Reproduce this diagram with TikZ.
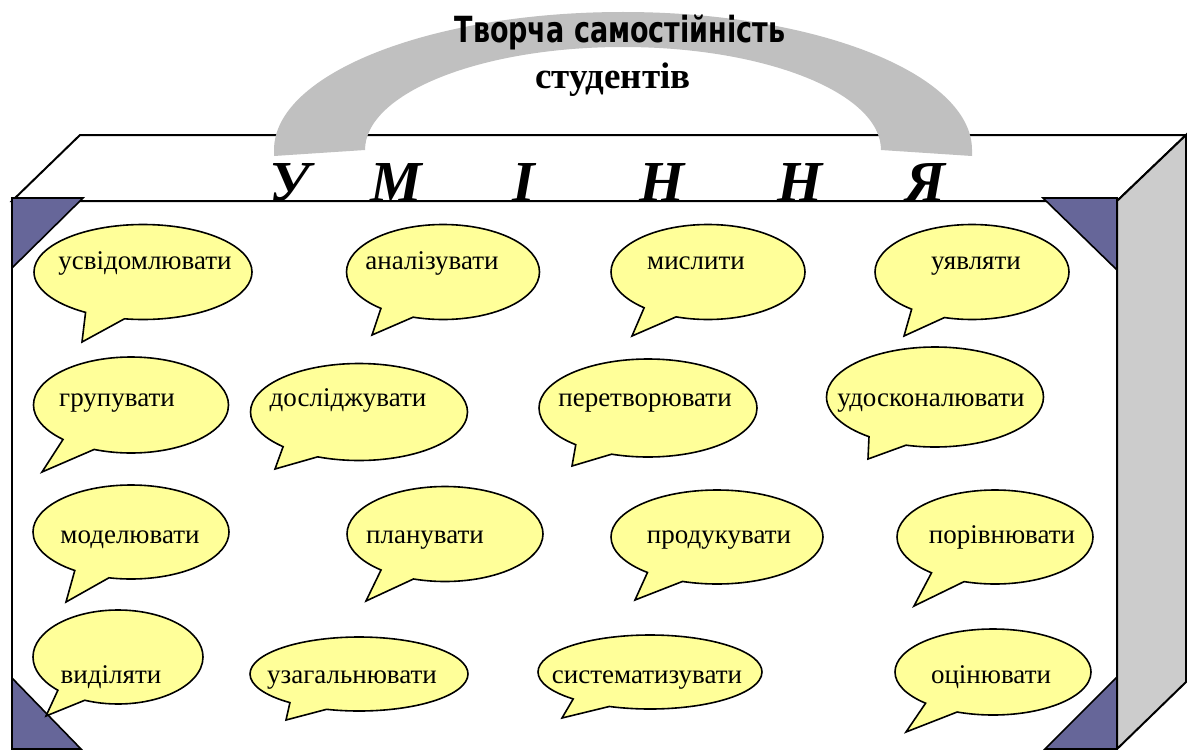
\documentclass[tikz,border=0pt]{standalone}
\usepackage{fontspec}
\setmainfont{Liberation Serif}
\newfontfamily\titlefont{DejaVu Sans}
\usetikzlibrary{shapes.callouts}
\definecolor{bubbleyellow}{HTML}{FFFF99}
\definecolor{cornerblue}{HTML}{666699}
\definecolor{sidegray}{HTML}{CCCCCC}
\definecolor{handlegray}{HTML}{C0C0C0}

\begin{document}
\begin{tikzpicture}[x=0.5pt, y=-0.5pt,
    edge/.style={draw=black, line width=1pt},
    corner/.style={fill=cornerblue, draw=black, line width=0.8pt},
    bubble/.style={ellipse callout, draw=black, line width=0.8pt, fill=bubbleyellow,
        inner sep=0pt, callout pointer arc=22},
    word/.style={font=\fontsize{13.5}{16}\selectfont, inner sep=0pt, anchor=base},
    letter/.style={font=\fontsize{29}{30}\selectfont\bfseries\itshape, anchor=base, inner sep=0pt}]
    \useasboundingbox (0,0) rectangle (1187,749);
    \fill[white] (0,0) rectangle (1187,749);

    \coordinate (ftl) at (12,201);
    \coordinate (ftr) at (1117,201);
    \coordinate (fbl) at (12,749);
    \coordinate (fbr) at (1117,749);
    \coordinate (btl) at (80,135);
    \coordinate (btr) at (1186,135);
    \coordinate (bbr) at (1186,682);

    \draw[edge, fill=white] (ftl) -- (btl) -- (btr) -- (ftr) -- cycle;

    % handle
    \fill[handlegray] (274,156) -- (274,150) arc[start angle=180, end angle=360, x radius=349, y radius=138]
        -- (972,156) -- (881,150) arc[start angle=360, end angle=180, x radius=258, y radius=103]
        -- (365,150) -- cycle;

    \draw[edge, fill=sidegray] (ftr) -- (btr) -- (bbr) -- (fbr) -- cycle;
    \draw[edge] (fbl) -- (ftl) -- (ftr) -- (fbr);

    \draw[corner] (12,198) -- (83,198) -- (12,268) -- cycle;
    \draw[corner] (1043,198) -- (1117,198) -- (1117,270) -- cycle;
    \draw[corner] (12,678) -- (81,749) -- (12,749) -- cycle;
    \draw[corner] (1117,677) -- (1117,749) -- (1045,749) -- cycle;

    \node[font=\titlefont\fontsize{18}{20}\selectfont\bfseries] (title) at (620,32)
        {\scalebox{0.75}[1]{Творча самостійність}};
    \node[font=\fontsize{18.5}{20}\selectfont\bfseries] (sub) at (613,80) {студентів};

    \foreach \ch/\lx [count=\i] in {У/290, М/396, І/524, Н/662, Н/800, Я/925}
        \node[letter] (let\i) at (\lx,201) {\ch};

    \foreach \n/\cx/\cy/\w/\h/\px/\py/\tx/\ty/\txt in {
        1/143/272/218/95/82/342/145/269/усвідомлювати,
        2/443/272/193/95/372/335/432/269/аналізувати,
        3/708/272/194/95/632/336/696/269/мислити,
        4/972/272/194/95/904/336/976/269/уявляти,
        5/131/405/195/96/42/472/117/406/групувати,
        6/359/412/217/97/275/469/348/406/досліджувати,
        7/648/408/218/98/572/466/645/406/перетворювати,
        8/935/397/217/100/868/459/931/406/удосконалювати,
        9/131/532/196/94/66/602/130/543/моделювати,
        10/445/534/196/95/366/601/425/543/планувати,
        11/717/537/212/94/635/600/719/543/продукувати,
        12/995/537/196/94/914/606/1002/543/порівнювати,
        13/118/657/170/94/46/716/111/683/виділяти,
        14/359/674/218/74/286/720/352/683/узагальнювати,
        15/650/672/224/74/562/718/647/683/систематизувати,
        16/993/672/196/86/906/732/991/683/оцінювати}
    {
        \node[bubble, minimum width=0.5pt*\w, minimum height=0.5pt*\h,
            callout absolute pointer={(\px,\py)}] (b\n) at (\cx,\cy) {};
        \node[word] (w\n) at (\tx,\ty) {\txt};
    }
\end{tikzpicture}
\end{document}
